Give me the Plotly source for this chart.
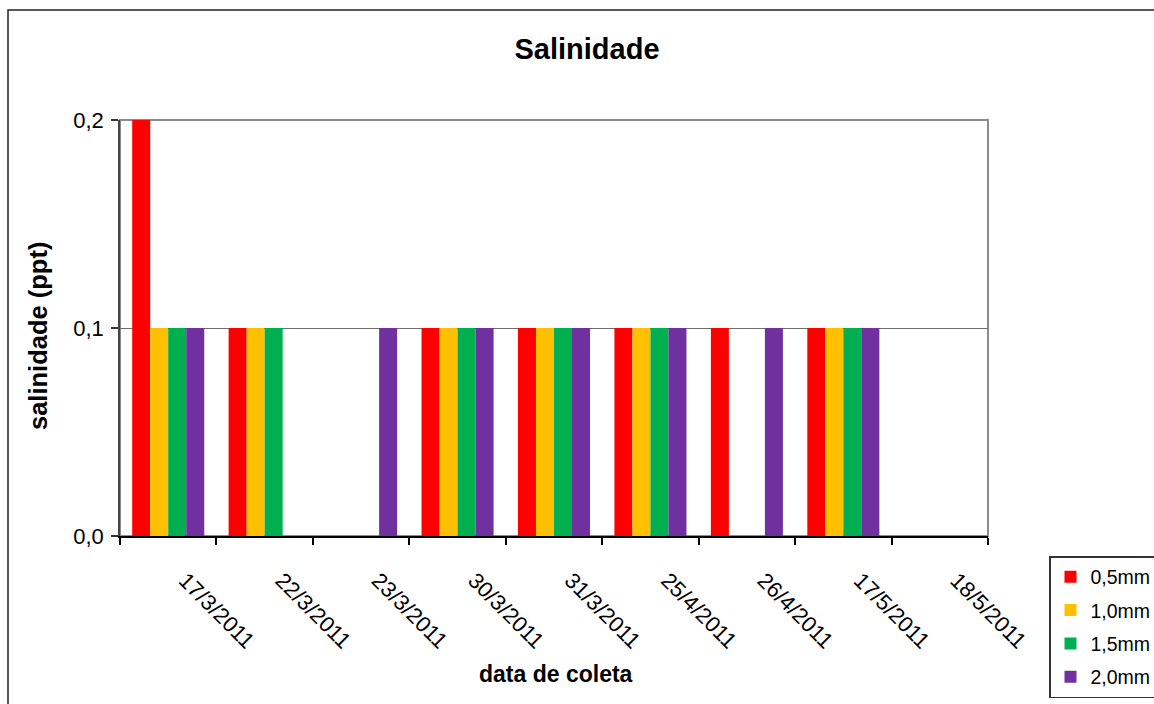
import plotly.graph_objects as go

# Sampling dates (category axis)
datas = ["17/3/2011", "22/3/2011", "23/3/2011", "30/3/2011", "31/3/2011",
         "25/4/2011", "26/4/2011", "17/5/2011", "18/5/2011"]

# Salinity (ppt) per mesh size; None = no measurement
sal_05 = [0.2, 0.1, None, 0.1, 0.1, 0.1, 0.1, 0.1, None]
sal_10 = [0.1, 0.1, None, 0.1, 0.1, 0.1, None, 0.1, None]
sal_15 = [0.1, 0.1, None, 0.1, 0.1, 0.1, None, 0.1, None]
sal_20 = [0.1, None, 0.1, 0.1, 0.1, 0.1, 0.1, 0.1, None]

series = [
    ("0,5mm", sal_05, "#FF0000"),
    ("1,0mm", sal_10, "#FFC000"),
    ("1,5mm", sal_15, "#00B050"),
    ("2,0mm", sal_20, "#7030A0"),
]

FONT = "Liberation Sans, Arial, sans-serif"

W, H = 1154, 704
L, R, T, B = 120, 988, 120, 536   # plot area in pixels
pw, ph = R - L, B - T


def px_x(x):
    return (x - L) / pw


def px_y(y):
    return (B - y) / ph


fig = go.Figure()
for i, (name, vals, col) in enumerate(series):
    fig.add_trace(go.Bar(
        x=datas, y=vals, name=name,
        marker=dict(color=col, line=dict(width=0)),
        legendgroup=f"g{i}",
    ))

fig.update_layout(
    width=W, height=H,
    margin=dict(l=L, r=W - R, t=T, b=H - B, pad=0, autoexpand=False),
    paper_bgcolor="white", plot_bgcolor="white",
    separators=",.",
    barmode="group", bargap=0.253, bargroupgap=0,
    font=dict(family=FONT, size=22, color="black"),
    title=dict(text="<b>Salinidade</b>", font=dict(size=29, family=FONT),
               x=587 / W, xref="container", xanchor="center",
               y=1 - 49 / H, yref="container", yanchor="middle"),
    xaxis=dict(
        type="category", tickson="boundaries", ticks="outside", ticklen=7,
        tickcolor="black", tickwidth=1.5, showline=True, linecolor="black",
        linewidth=1.5, tickangle=45, ticklabelstandoff=21, ticklabelshift=17,
        tickfont=dict(size=22, family=FONT), showgrid=False,
    ),
    yaxis=dict(
        range=[0, 0.2], dtick=0.1, tickformat=".1f", ticks="outside",
        ticklen=7, tickcolor="#333333", tickwidth=1.5, showline=True,
        linecolor="#444444", linewidth=1.5, showgrid=True,
        gridcolor="#6e6e6e", gridwidth=1.2, zeroline=False,
        tickfont=dict(size=22, family=FONT), ticklabelstandoff=3,
    ),
    legend=dict(
        x=px_x(1049), y=px_y(556), xanchor="left", yanchor="top",
        bordercolor="#333333", borderwidth=1.5, bgcolor="white",
        font=dict(size=19.5, family=FONT), tracegroupgap=5,
        itemwidth=30,
    ),
    showlegend=True,
    annotations=[
        dict(text="<b>salinidade (ppt)</b>", textangle=-90, showarrow=False,
             xref="paper", yref="paper", x=px_x(38), y=px_y(336),
             xanchor="center", yanchor="middle",
             font=dict(size=25.5, family=FONT)),
        dict(text="<b>data de coleta</b>", showarrow=False,
             xref="paper", yref="paper", x=px_x(556), y=px_y(674),
             xanchor="center", yanchor="middle",
             font=dict(size=23, family=FONT)),
    ],
    shapes=[
        # plot-area frame (top and right edges)
        dict(type="rect", xref="paper", yref="paper", x0=0, x1=1, y0=0, y1=1,
             line=dict(color="#8c8c8c", width=2), layer="below"),
        # outer chart border
        dict(type="rect", xref="paper", yref="paper",
             x0=px_x(8), x1=px_x(1170), y0=px_y(720), y1=px_y(10),
             line=dict(color="#222222", width=1.5)),
    ],
)

fig.write_html("out.html")
